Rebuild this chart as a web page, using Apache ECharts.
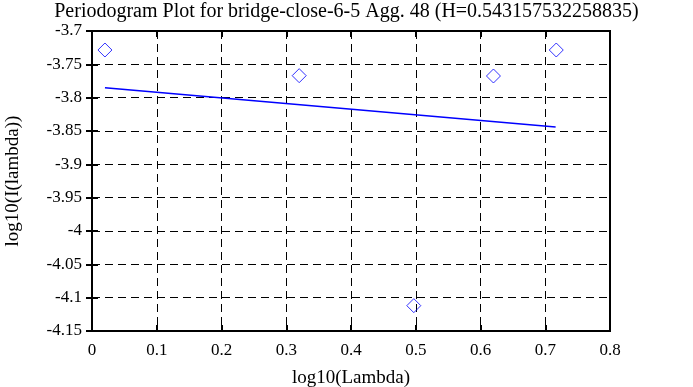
<!DOCTYPE html>
<html>
<head>
<meta charset="utf-8">
<script src="https://cdn.jsdelivr.net/npm/echarts@6/dist/echarts.min.js"></script>
<style>html,body{margin:0;padding:0;background:#fff}#c{width:693px;height:387px}</style>
</head>
<body>
<div id="c"></div>
<script>
const titleText = 'Periodogram Plot for bridge-close-6-5 Agg. 48 (H=0.543157532258835)';
const pointX = [0.02, 0.32, 0.497, 0.620, 0.717];
const pointY = [-3.7285, -3.767, -4.112, -3.7675, -3.7285];
const fitX = [0.02, 0.716];
const fitY = [-3.785, -3.844];
const xName = 'log10(Lambda)';
const yName = 'log10(I(lambda))';

const F = 'Liberation Serif';
const chart = echarts.init(document.getElementById('c'));
const axisCommon = {
  axisLine: {show: true, lineStyle: {color: '#000', width: 2}},
  axisTick: {show: true, inside: true, length: 6, lineStyle: {color: '#000', width: 2}},
};
chart.setOption({
  animation: false,
  backgroundColor: '#fff',
  title: {text: titleText, left: 'center', top: -3,
    textStyle: {fontFamily: F, fontSize: 20, fontWeight: 'normal', color: '#000'}},
  grid: {left: 92, right: 83, top: 31, bottom: 56, show: true, borderColor: '#000', borderWidth: 2,
    outerBoundsMode: 'none', containLabel: false},
  xAxis: [{
    type: 'value', min: 0, max: 0.8, interval: 0.1,
    name: xName, nameLocation: 'middle', nameGap: 38,
    nameTextStyle: {fontFamily: F, fontSize: 19, color: '#000'},
    axisLabel: {fontFamily: F, fontSize: 17, color: '#000', margin: 11},
    splitLine: {show: true, lineStyle: {color: '#000', type: [8, 5], width: 1}},
    ...axisCommon
  }, {
    type: 'value', min: 0, max: 0.8, interval: 0.1, position: 'top',
    axisLabel: {show: false}, splitLine: {show: false}, ...axisCommon
  }],
  yAxis: [{
    type: 'value', min: -4.15, max: -3.7, interval: 0.05,
    name: yName, nameLocation: 'middle', nameGap: 69, nameRotate: 90,
    nameTextStyle: {fontFamily: F, fontSize: 19, color: '#000'},
    axisLabel: {fontFamily: F, fontSize: 17, color: '#000', margin: 10,
      formatter: v => String(Math.round(v * 100) / 100)},
    splitLine: {show: true, lineStyle: {color: '#000', type: [8, 5], width: 1}},
    ...axisCommon
  }, {
    type: 'value', min: -4.15, max: -3.7, interval: 0.05, position: 'right',
    axisLabel: {show: false}, splitLine: {show: false}, ...axisCommon
  }],
  series: [{
    type: 'scatter',
    data: pointX.map((x, i) => [x, pointY[i]]),
    symbol: 'diamond', symbolSize: 14,
    itemStyle: {color: 'transparent', borderColor: '#0000ff', borderWidth: 1}
  }, {
    type: 'line',
    data: fitX.map((x, i) => [x, fitY[i]]),
    showSymbol: false, symbol: 'none',
    lineStyle: {color: '#0000ff', width: 1.5}
  }]
});
</script>
</body>
</html>
